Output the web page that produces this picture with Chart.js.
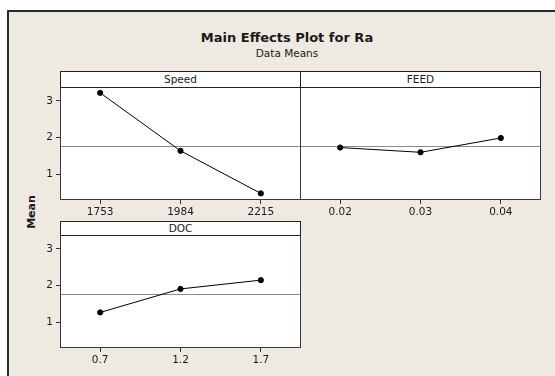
<!DOCTYPE html>
<html>
<head>
<meta charset="utf-8">
<script src="https://cdn.jsdelivr.net/npm/chart.js@4/dist/chart.umd.min.js"></script>
<style>
  html, body { margin: 0; padding: 0; background: #ffffff; width: 555px; height: 376px; overflow: hidden; }
  #frame { position: absolute; left: 7px; top: 10px; width: 620px; height: 420px; background: #EEEAE1; border-left: 2px solid #2a2a2a; border-top: 2px solid #2a2a2a; }
  .txt { position: absolute; font-family: "DejaVu Sans", sans-serif; color: #1a1a1a; white-space: nowrap; }
  #title { left: 287px; top: 30px; transform: translateX(-50%); font-weight: bold; font-size: 13px; }
  #subtitle { left: 287px; top: 47px; transform: translateX(-50%); font-size: 10.5px; }
  .hdr { position: absolute; z-index: 5; background: #ffffff; border: 1px solid #222; box-sizing: border-box; font-family: "DejaVu Sans", sans-serif; font-size: 10.5px; color: #1a1a1a; text-align: center; }
  #ylab { left: 31px; top: 212px; transform: translate(-50%, -50%) rotate(-90deg); font-weight: bold; font-size: 11px; }
  canvas { position: absolute; z-index: 1; }
</style>
</head>
<body>
<div id="frame"></div>
<div class="txt" id="title">Main Effects Plot for Ra</div>
<div class="txt" id="subtitle">Data Means</div>
<div class="txt" id="ylab">Mean</div>
<canvas id="cSpeed" width="281" height="140" style="left:20px;top:87px;"></canvas>
<canvas id="cFeed" width="241" height="140" style="left:300px;top:87px;"></canvas>
<canvas id="cDoc" width="281" height="140" style="left:20px;top:235px;"></canvas>
<div class="hdr" id="hSpeed" style="left:60px;top:71px;width:241px;height:17px;line-height:15px;">Speed</div>
<div class="hdr" id="hFeed" style="left:300px;top:71px;width:241px;height:17px;line-height:15px;">FEED</div>
<div class="hdr" id="hDoc" style="left:60px;top:221px;width:241px;height:15px;line-height:13px;">DOC</div>
<script>
// ---- data ----
const speedLevels = ["1753", "1984", "2215"];
const speedMeans = [3.22, 1.64, 0.48];
const feedLevels = ["0.02", "0.03", "0.04"];
const feedMeans = [1.73, 1.60, 1.99];
const docLevels = ["0.7", "1.2", "1.7"];
const docMeans = [1.27, 1.91, 2.15];
const grandMean = 1.76;
const yTicks = [1, 2, 3];
const yMin = 0.3, yMax = 3.38;

const FONT = { family: "DejaVu Sans", size: 10.5 };

const boxPlugin = {
  id: 'boxPlugin',
  beforeDatasetsDraw(chart) {
    const { ctx, chartArea: a, scales } = chart;
    ctx.save();
    ctx.fillStyle = '#ffffff';
    ctx.fillRect(a.left, a.top, a.right - a.left, a.bottom - a.top);
    const y = Math.round(scales.y.getPixelForValue(grandMean)) + 0.5;
    ctx.strokeStyle = '#8a8a8a';
    ctx.lineWidth = 1;
    ctx.beginPath();
    ctx.moveTo(a.left, y);
    ctx.lineTo(a.right, y);
    ctx.stroke();
    ctx.restore();
  },
  afterDraw(chart) {
    const { ctx, chartArea: a } = chart;
    ctx.save();
    ctx.strokeStyle = '#3a3a3a';
    ctx.lineWidth = 1;
    ctx.strokeRect(Math.round(a.left) + 0.5, Math.round(a.top) - 0.5, Math.round(a.right - a.left) - 1, Math.round(a.bottom - a.top));
    ctx.restore();
  }
};

function makeChart(id, labels, values, showY) {
  return new Chart(document.getElementById(id), {
    type: 'line',
    data: {
      labels: labels,
      datasets: [{
        data: values,
        borderColor: '#000000',
        backgroundColor: '#000000',
        borderWidth: 1,
        pointRadius: 2.6,
        pointBackgroundColor: '#000000',
        pointBorderColor: '#000000',
        tension: 0,
        clip: false
      }]
    },
    options: {
      responsive: false,
      animation: false,
      events: [],
      layout: { padding: 0, autoPadding: false },
      plugins: { legend: { display: false }, title: { display: false }, tooltip: { enabled: false } },
      scales: {
        x: {
          type: 'category',
          offset: true,
          grid: { display: true, drawOnChartArea: false, drawTicks: true, tickLength: 4, color: '#333' },
          border: { display: false },
          ticks: { color: '#1a1a1a', font: FONT, padding: 2, maxRotation: 0, autoSkip: false },
          afterFit(scale) { scale.height = 27; scale.paddingLeft = 0; scale.paddingRight = 0; }
        },
        y: {
          type: 'linear',
          display: showY,
          min: yMin,
          max: yMax,
          afterBuildTicks(scale) { scale.ticks = yTicks.map(v => ({ value: v })); },
          grid: { display: true, drawOnChartArea: false, drawTicks: true, tickLength: 4, color: '#333' },
          border: { display: false },
          ticks: { color: '#1a1a1a', font: FONT, padding: 3 },
          afterFit(scale) { scale.width = showY ? 40 : 0; scale.paddingTop = 0; scale.paddingBottom = 0; }
        }
      }
    },
    plugins: [boxPlugin]
  });
}

makeChart('cSpeed', speedLevels, speedMeans, true);
makeChart('cFeed', feedLevels, feedMeans, false);
makeChart('cDoc', docLevels, docMeans, true);
</script>
</body>
</html>
